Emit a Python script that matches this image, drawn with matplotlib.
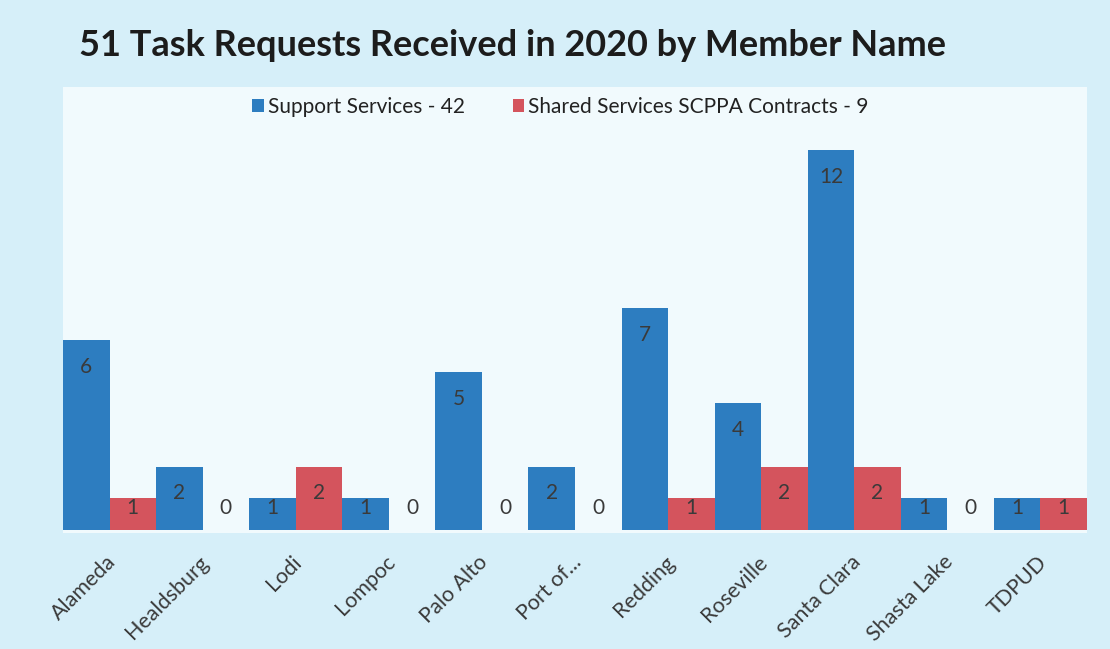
import matplotlib
matplotlib.use("Agg")
import matplotlib.pyplot as plt
import numpy as np
from matplotlib.patches import Patch
from matplotlib.transforms import ScaledTranslation

members = ["Alameda", "Healdsburg", "Lodi", "Lompoc", "Palo Alto", "Port of...",
           "Redding", "Roseville", "Santa Clara", "Shasta Lake", "TDPUD"]
support = [6, 2, 1, 1, 5, 2, 7, 4, 12, 1, 1]
shared = [1, 0, 2, 0, 0, 0, 1, 2, 2, 0, 1]
series_names = ["Support Services - 42", "Shared Services SCPPA Contracts - 9"]
title = "51 Task Requests Received in 2020 by Member Name"

BLUE = "#2d7dc0"
RED = "#d4545d"
TXT = "#3a3a3a"
FONT = "Lato"

fig = plt.figure(figsize=(11.10, 6.49), dpi=100, facecolor="#d6eff9")
ax = fig.add_axes([63 / 1110, 1 - 533 / 649, (1087 - 63) / 1110, (533 - 87) / 649])
ax.set_facecolor("#f1fafd")

x = np.arange(len(members))
w = 0.5
b1 = ax.bar(x - w / 2, support, width=w, color=BLUE, zorder=2)
b2 = ax.bar(x + w / 2, shared, width=w, color=RED, zorder=2)

ax.set_xlim(-0.5, len(members) - 0.5)
ax.set_ylim(-0.1, 14.0)

def label_bars(bars, values):
    for rect, v in zip(bars, values):
        cx = rect.get_x() + rect.get_width() / 2
        y = v - 0.85 if v >= 2 else 0.7
        ax.text(cx, y, f"{v}", ha="center", va="center", fontsize=15,
                color=TXT, family=FONT, zorder=3)

label_bars(b1, support)
label_bars(b2, shared)

ax.set_xticks(x)
ax.set_xticklabels(members, rotation=45, ha="right", va="center",
                   rotation_mode="anchor", fontsize=15.5, color=TXT, family=FONT)
ax.tick_params(axis="x", length=0, pad=0)
shift = ScaledTranslation(0.03, -0.26, fig.dpi_scale_trans)
for lbl in ax.get_xticklabels():
    lbl.set_transform(lbl.get_transform() + shift)
ax.set_yticks([])
for s in ax.spines.values():
    s.set_visible(False)

fig.text(0.462, 1 - 46 / 649, title, ha="center", va="center",
         fontsize=26, fontweight="bold", color="#1c1c1c", family=FONT)

handles = [Patch(facecolor=BLUE), Patch(facecolor=RED)]
fig.legend(handles, series_names, loc="center", bbox_to_anchor=(0.505, 1 - 107 / 649),
           ncol=2, frameon=False, handlelength=0.55, handleheight=0.55,
           handletextpad=0.2, columnspacing=2.3,
           prop={"family": FONT, "size": 15}, labelcolor="#222222")

fig.savefig("out.png", dpi=100, facecolor=fig.get_facecolor())
